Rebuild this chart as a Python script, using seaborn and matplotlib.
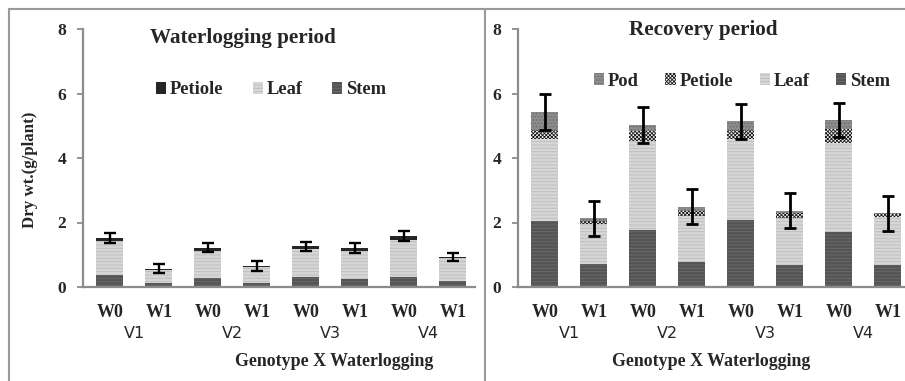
import numpy as np
import pandas as pd
import seaborn as sns
import matplotlib.pyplot as plt
from matplotlib.patches import Patch
from matplotlib.lines import Line2D

# bar order: W0/W1 for each genotype
genotypes = ["V1", "V2", "V3", "V4"]
treatments = ["W0", "W1"]
bars = [g + "-" + t for g in genotypes for t in treatments]

# waterlogging period (g/plant)
wl_stem = [0.36, 0.12, 0.29, 0.12, 0.31, 0.25, 0.31, 0.18]
wl_leaf = [1.07, 0.42, 0.83, 0.51, 0.86, 0.87, 1.16, 0.72]
wl_petiole = [0.08, 0.03, 0.10, 0.03, 0.09, 0.08, 0.11, 0.03]
wl_err = [0.15, 0.15, 0.15, 0.15, 0.15, 0.15, 0.16, 0.13]

# recovery period (g/plant)
rec_stem = [2.06, 0.72, 1.77, 0.76, 2.08, 0.69, 1.70, 0.67]
rec_leaf = [2.52, 1.24, 2.77, 1.45, 2.52, 1.44, 2.77, 1.51]
rec_petiole = [0.29, 0.10, 0.31, 0.16, 0.27, 0.16, 0.42, 0.09]
rec_pod = [0.55, 0.07, 0.16, 0.12, 0.27, 0.08, 0.29, 0.02]
rec_err = [0.56, 0.55, 0.56, 0.54, 0.54, 0.55, 0.54, 0.54]

sns.set_style("white")
plt.rcParams["hatch.linewidth"] = 0.6
serif = "Liberation Serif"

# face colour, hatch colour, hatch
styles = {
    "Stem": ("#555555", "#6c6c6c", "-----"),
    "Leaf": ("#d6d6d6", "#bcbcbc", "-----"),
    "Petiole_wl": ("#262626", "#262626", None),
    "Petiole": ("#f4f4f4", "#1a1a1a", "xxxxxxxxx"),
    "Pod": ("#8c8c8c", "#6a6a6a", "....."),
}

W, H = 905, 381
fig = plt.figure(figsize=(W / 100, H / 100), dpi=100)


def px(x, y):
    return x / W, 1 - y / H


def stacked(ax, layers, err, ew):
    # draw cumulative totals from the top layer down so lower layers cover them
    cum = np.cumsum([l[1] for l in layers], axis=0)
    for i in range(len(layers) - 1, -1, -1):
        fc, hc, h = styles[layers[i][0]]
        df = pd.DataFrame({"bar": bars, "value": cum[i]})
        sns.barplot(data=df, x="bar", y="value", order=bars, color=fc,
                    edgecolor=hc, hatch=h, linewidth=0, width=0.55,
                    saturation=1, errorbar=None, ax=ax)
    ax.errorbar(np.arange(len(bars)), cum[-1], yerr=err, fmt="none",
                ecolor="black", elinewidth=ew, capsize=4.5, capthick=ew, zorder=5)
    ax.set_xlim(-0.55, 7.45)
    ax.set_ylim(0, 8)
    ax.set_yticks([0, 2, 4, 6, 8])
    ax.set_xlabel("")
    ax.set_ylabel("")
    ax.set_xticks(range(len(bars)))
    ax.set_xticklabels([b.split("-")[1] for b in bars],
                       fontfamily=serif, fontweight="bold", fontsize=13)
    ax.set_yticklabels(["0", "2", "4", "6", "8"],
                       fontfamily=serif, fontweight="bold", fontsize=12.5)
    ax.tick_params(axis="x", length=0, pad=12)
    ax.tick_params(axis="y", length=4, width=1.3, color="#8c8c8c", pad=8,
                   direction="out", left=True)
    for s in ["top", "right"]:
        ax.spines[s].set_visible(False)
    for s in ["left", "bottom"]:
        ax.spines[s].set_color("#8c8c8c")
        ax.spines[s].set_linewidth(1.6)
    for k, g in enumerate(genotypes):
        ax.text(2 * k + 0.5, -0.18, g, transform=ax.get_xaxis_transform(),
                ha="center", va="center", fontsize=11.5, family="DejaVu Sans")


def handle(name):
    fc, hc, h = styles[name]
    return Patch(facecolor=fc, edgecolor=hc, hatch=h, linewidth=0)


leg_font = {"family": serif, "weight": "bold", "size": 13.3}

# left panel
ax1 = fig.add_axes([83 / W, 1 - 287 / H, 392 / W, 258 / H])
stacked(ax1, [("Stem", wl_stem), ("Leaf", wl_leaf), ("Petiole_wl", wl_petiole)],
        wl_err, 1.7)
ax1.legend([handle("Petiole_wl"), handle("Leaf"), handle("Stem")],
           ["Petiole", "Leaf", "Stem"], ncol=3, frameon=False,
           loc="center", bbox_to_anchor=((271 - 83) / 392, 1 - (90 - 29) / 258),
           handlelength=0.55, handleheight=0.55, handletextpad=0.2,
           columnspacing=1.6, prop=leg_font)
fig.text(*px(243, 38), "Waterlogging period", ha="center", va="center",
         family=serif, weight="bold", fontsize=15.2)
fig.text(*px(30, 170), "Dry wt.(g/plant)", ha="center", va="center",
         rotation=90, family=serif, weight="bold", fontsize=12.2)
fig.text(*px(334, 362), "Genotype X Waterlogging", ha="center", va="center",
         family=serif, weight="bold", fontsize=12.9)

# right panel
ax2 = fig.add_axes([518 / W, 1 - 287 / H, 392 / W, 258 / H])
stacked(ax2, [("Stem", rec_stem), ("Leaf", rec_leaf), ("Petiole", rec_petiole),
              ("Pod", rec_pod)], rec_err, 2.0)
ax2.legend([handle("Pod"), handle("Petiole"), handle("Leaf"), handle("Stem")],
           ["Pod", "Petiole", "Leaf", "Stem"], ncol=4, frameon=False,
           loc="center", bbox_to_anchor=((742 - 518) / 392, 1 - (81 - 29) / 258),
           handlelength=0.55, handleheight=0.55, handletextpad=0.2,
           columnspacing=1.45, prop=leg_font)
fig.text(*px(703, 30), "Recovery period", ha="center", va="center",
         family=serif, weight="bold", fontsize=15.2)
fig.text(*px(711, 361), "Genotype X Waterlogging", ha="center", va="center",
         family=serif, weight="bold", fontsize=12.9)

# panel frames
fcol = "#9a9a9a"
for xs, ys in [([9, 9], [9, 381]), ([9, 905], [9, 9]), ([485, 485], [9, 381])]:
    fig.add_artist(Line2D([x / W for x in xs], [1 - y / H for y in ys],
                          color=fcol, linewidth=1.5))

fig.savefig("out.png", dpi=100)
